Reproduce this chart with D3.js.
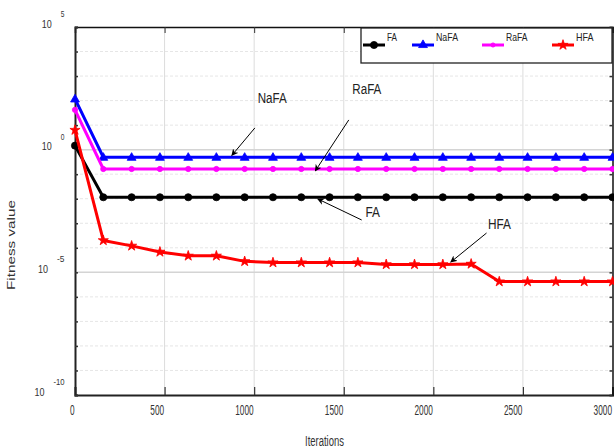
<!DOCTYPE html>
<html>
<head>
<meta charset="utf-8">
<script src="https://cdn.jsdelivr.net/npm/d3@7"></script>
<style>
  html, body { margin: 0; padding: 0; background: #fff; }
  svg { display: block; font-family: "Liberation Sans", Arial, sans-serif; }
</style>
</head>
<body>
<svg id="chart" width="614" height="448"></svg>
<script>
// ---------------- data ----------------
const iterations = [0, 158, 316, 474, 632, 789, 947, 1105, 1263, 1421, 1579, 1737, 1895, 2053, 2211, 2368, 2526, 2684, 2842, 3000];
const faValues   = [1.46, 0.0115, 0.0115, 0.0115, 0.0115, 0.0115, 0.0115, 0.0115, 0.0115, 0.0115, 0.0115, 0.0115, 0.0115, 0.0115, 0.0115, 0.0115, 0.0115, 0.0115, 0.0115, 0.0115];
const nafaValues = [117, 0.49, 0.49, 0.49, 0.49, 0.49, 0.49, 0.49, 0.49, 0.49, 0.49, 0.49, 0.49, 0.49, 0.49, 0.49, 0.49, 0.49, 0.49, 0.49];
const rafaValues = [42, 0.163, 0.163, 0.163, 0.163, 0.163, 0.163, 0.163, 0.163, 0.163, 0.163, 0.163, 0.163, 0.163, 0.163, 0.163, 0.163, 0.163, 0.163, 0.163];
const hfaValues  = [6.3, 2.0e-4, 1.2e-4, 6.8e-5, 4.7e-5, 4.7e-5, 2.8e-5, 2.5e-5, 2.5e-5, 2.5e-5, 2.5e-5, 2.1e-5, 2.1e-5, 2.1e-5, 2.2e-5, 4.2e-6, 4.2e-6, 4.2e-6, 4.2e-6, 4.2e-6];

const seriesNames = ["FA", "NaFA", "RaFA", "HFA"];
const xTickValues = [0, 500, 1000, 1500, 2000, 2500, 3000];
const xTickLabels = ["0", "500", "1000", "1500", "2000", "2500", "3000"];
const yMajorValues = [1e5, 1e0, 1e-5, 1e-10];
const yMajorExponents = ["5", "0", "-5", "-10"];
const yDecadeValues = [1e5, 1e4, 1e3, 1e2, 1e1, 1e0, 1e-1, 1e-2, 1e-3, 1e-4, 1e-5, 1e-6, 1e-7, 1e-8, 1e-9, 1e-10];

// annotations: label position and arrow (start -> end) in data units
const annotations = [
  { text: "NaFA", tx: 1020, ty: 80,     x1: 1004, y1: 7.7,    x2: 875,  y2: 0.58 },
  { text: "RaFA", tx: 1548, ty: 180,    x1: 1528, y1: 16.3,   x2: 1341, y2: 0.135 },
  { text: "FA",   tx: 1621, ty: 1.86e-3, x1: 1600, y1: 1.36e-3, x2: 1355, y2: 9.8e-3 },
  { text: "HFA",  tx: 2305, ty: 5.7e-4, x1: 2297, y1: 4.0e-4, x2: 2097, y2: 2.6e-5 }
];

// ---------------- setup ----------------
const svg = d3.select("#chart");
const W = 614, H = 448;
const m = { left: 75, right: 1, top: 27, bottom: 53 };
const x = d3.scaleLinear().domain([0, 3000]).range([m.left, W - m.right - 0.5]);
const y = d3.scaleLog().domain([1e-10, 1e5]).range([H - m.bottom, m.top]);
const x0 = x.range()[0], x1 = x.range()[1], yTop = y.range()[1], yBot = y.range()[0];

const series = [
  { name: "FA",   values: faValues,   color: "#000000", marker: "circle" },
  { name: "NaFA", values: nafaValues, color: "#0000ff", marker: "triangle" },
  { name: "RaFA", values: rafaValues, color: "#ff00ff", marker: "dot" },
  { name: "HFA",  values: hfaValues,  color: "#ff0000", marker: "star" }
];

// ---------------- grid ----------------
const grid = svg.append("g");
grid.selectAll("line.v").data(xTickValues.slice(1, -1)).join("line")
  .attr("x1", d => x(d)).attr("x2", d => x(d))
  .attr("y1", yTop).attr("y2", yBot)
  .attr("stroke", "#dcdcdc").attr("stroke-width", 1);
grid.selectAll("line.h").data(yDecadeValues.slice(1, -1)).join("line")
  .attr("x1", x0).attr("x2", x1)
  .attr("y1", d => y(d)).attr("y2", d => y(d))
  .attr("stroke", d => yMajorValues.includes(d) ? "#d4d4d4" : "#e6e6e6")
  .attr("stroke-width", d => yMajorValues.includes(d) ? 1.5 : 1)
  .attr("stroke-dasharray", d => yMajorValues.includes(d) ? null : "3,2");

// ---------------- axes ----------------
const axBottom = svg.append("g").attr("transform", `translate(0,${yBot})`)
  .call(d3.axisBottom(x).tickValues(xTickValues).tickSize(-8).tickFormat((d, i) => xTickLabels[i]));
axBottom.select(".domain").attr("stroke", "#222").attr("stroke-width", 2);
axBottom.selectAll(".tick line").attr("stroke", "#333").attr("stroke-width", 1.2);
axBottom.selectAll(".tick text")
  .attr("x", -1).attr("y", 20).attr("dy", 0).attr("text-anchor", "end")
  .attr("fill", "#333").style("font-size", "14px").style("font-family", "'Liberation Sans', Arial, sans-serif")
  .attr("textLength", (d, i) => xTickLabels[i].length * 4.6).attr("lengthAdjust", "spacingAndGlyphs");

const axTop = svg.append("g").attr("transform", `translate(0,${yTop})`)
  .call(d3.axisTop(x).tickValues(xTickValues).tickSize(-6).tickFormat(""));
axTop.select(".domain").attr("stroke", "#111").attr("stroke-width", 1.5);
axTop.selectAll(".tick line").attr("stroke", "#333");

const axLeft = svg.append("g").attr("transform", `translate(${x0},0)`)
  .call(d3.axisLeft(y).tickValues(yDecadeValues).tickSize(-3).tickFormat(""));
axLeft.select(".domain").attr("stroke", "#222").attr("stroke-width", 2);
axLeft.selectAll(".tick line").attr("stroke", "#333").attr("stroke-width", 1.5);

const axRight = svg.append("g").attr("transform", `translate(${x1},0)`)
  .call(d3.axisRight(y).tickValues(yDecadeValues).tickSize(-3).tickFormat(""));
axRight.select(".domain").attr("stroke", "#111").attr("stroke-width", 1.5);
axRight.selectAll(".tick line").attr("stroke", "#333").attr("stroke-width", 1.5);

// y tick labels: 10 with superscript exponent
const yl = svg.append("g").attr("fill", "#333");
yMajorValues.forEach((v, i) => {
  const e = yMajorExponents[i];
  const expRight = 64.5;
  const expW = e.length * 3.7;
  yl.append("text").attr("x", expRight).attr("y", y(v) - 10)
    .attr("text-anchor", "end").style("font-size", "8.5px")
    .attr("textLength", expW).attr("lengthAdjust", "spacingAndGlyphs").text(e);
  yl.append("text").attr("x", expRight - expW - 9).attr("y", y(v) + 0.5)
    .attr("text-anchor", "end").style("font-size", "11px")
    .attr("textLength", 10).attr("lengthAdjust", "spacingAndGlyphs").text("10");
});

// axis titles
svg.append("text").attr("x", 305).attr("y", 446)
  .attr("fill", "#333").style("font-size", "14px")
  .attr("textLength", 39).attr("lengthAdjust", "spacingAndGlyphs").text("Iterations");
svg.append("text").attr("transform", "translate(15,290) rotate(-90)")
  .attr("fill", "#333").style("font-size", "10.5px")
  .attr("textLength", 90).attr("lengthAdjust", "spacingAndGlyphs").text("Fitness value");

// ---------------- markers ----------------
function markerPath(type) {
  if (type === "triangle") return d3.symbol(d3.symbolTriangle, 34)();
  if (type === "star") return d3.symbol(d3.symbolStar, 32)();
  if (type === "circle") return d3.symbol(d3.symbolCircle, 40)();
  return d3.symbol(d3.symbolCircle, 22)();
}

// ---------------- lines ----------------
const line = d3.line().x(d => x(d[0])).y(d => y(d[1]));
const plot = svg.append("g");
series.forEach(s => {
  const pts = iterations.map((it, i) => [it, s.values[i]]);
  plot.append("path").datum(pts).attr("d", line)
    .attr("fill", "none").attr("stroke", s.color).attr("stroke-width", 3)
    .attr("stroke-linejoin", "round");
  plot.selectAll(null).data(pts).join("path")
    .attr("transform", d => `translate(${x(d[0])},${y(d[1]) + (s.marker === "triangle" ? 0.5 : 0)})`)
    .attr("d", markerPath(s.marker))
    .attr("fill", s.color).attr("stroke", s.color).attr("stroke-width", 0.8);
});

// ---------------- annotations ----------------
svg.append("defs").append("marker")
  .attr("id", "arr").attr("viewBox", "0 0 10 10").attr("refX", 9).attr("refY", 5)
  .attr("markerWidth", 7).attr("markerHeight", 7).attr("markerUnits", "userSpaceOnUse")
  .attr("orient", "auto")
  .append("path").attr("d", "M0,0 L10,5 L0,10 L3,5 Z").attr("fill", "#000");
const ann = svg.append("g");
const annWidths = { "NaFA": 29, "RaFA": 29, "FA": 14.5, "HFA": 23 };
annotations.forEach(a => {
  ann.append("line")
    .attr("x1", x(a.x1)).attr("y1", y(a.y1)).attr("x2", x(a.x2)).attr("y2", y(a.y2))
    .attr("stroke", "#000").attr("stroke-width", 1).attr("marker-end", "url(#arr)");
  ann.append("text").attr("x", x(a.tx)).attr("y", y(a.ty))
    .attr("fill", "#222").style("font-size", "15.5px")
    .attr("textLength", annWidths[a.text]).attr("lengthAdjust", "spacingAndGlyphs").text(a.text);
});

// ---------------- legend ----------------
const lg = svg.append("g");
const lgX = 361, lgY = 28, lgW = 251, lgH = 35;
lg.append("rect").attr("x", lgX).attr("y", lgY).attr("width", lgW).attr("height", lgH)
  .attr("fill", "#fff").attr("stroke", "#222").attr("stroke-width", 1.3);
const lgOffsets = [2, 51, 121, 191];
const lgTextW = { "FA": 10, "NaFA": 22, "RaFA": 21.5, "HFA": 17.5 };
series.forEach((s, i) => {
  const ox = lgX + lgOffsets[i];
  const ly = lgY + 17;
  lg.append("line").attr("x1", ox).attr("x2", ox + 22).attr("y1", ly).attr("y2", ly)
    .attr("stroke", s.color).attr("stroke-width", 3);
  lg.append("path").attr("transform", `translate(${ox + 11},${ly})`)
    .attr("d", s.marker === "dot" ? d3.symbol(d3.symbolCircle, 14)() : markerPath(s.marker))
    .attr("fill", s.color).attr("stroke", s.color).attr("stroke-width", 0.8);
  lg.append("text").attr("x", ox + 24).attr("y", lgY + 12.7)
    .attr("fill", "#222").style("font-size", "10.5px")
    .attr("textLength", lgTextW[s.name]).attr("lengthAdjust", "spacingAndGlyphs").text(s.name);
});
</script>
</body>
</html>
